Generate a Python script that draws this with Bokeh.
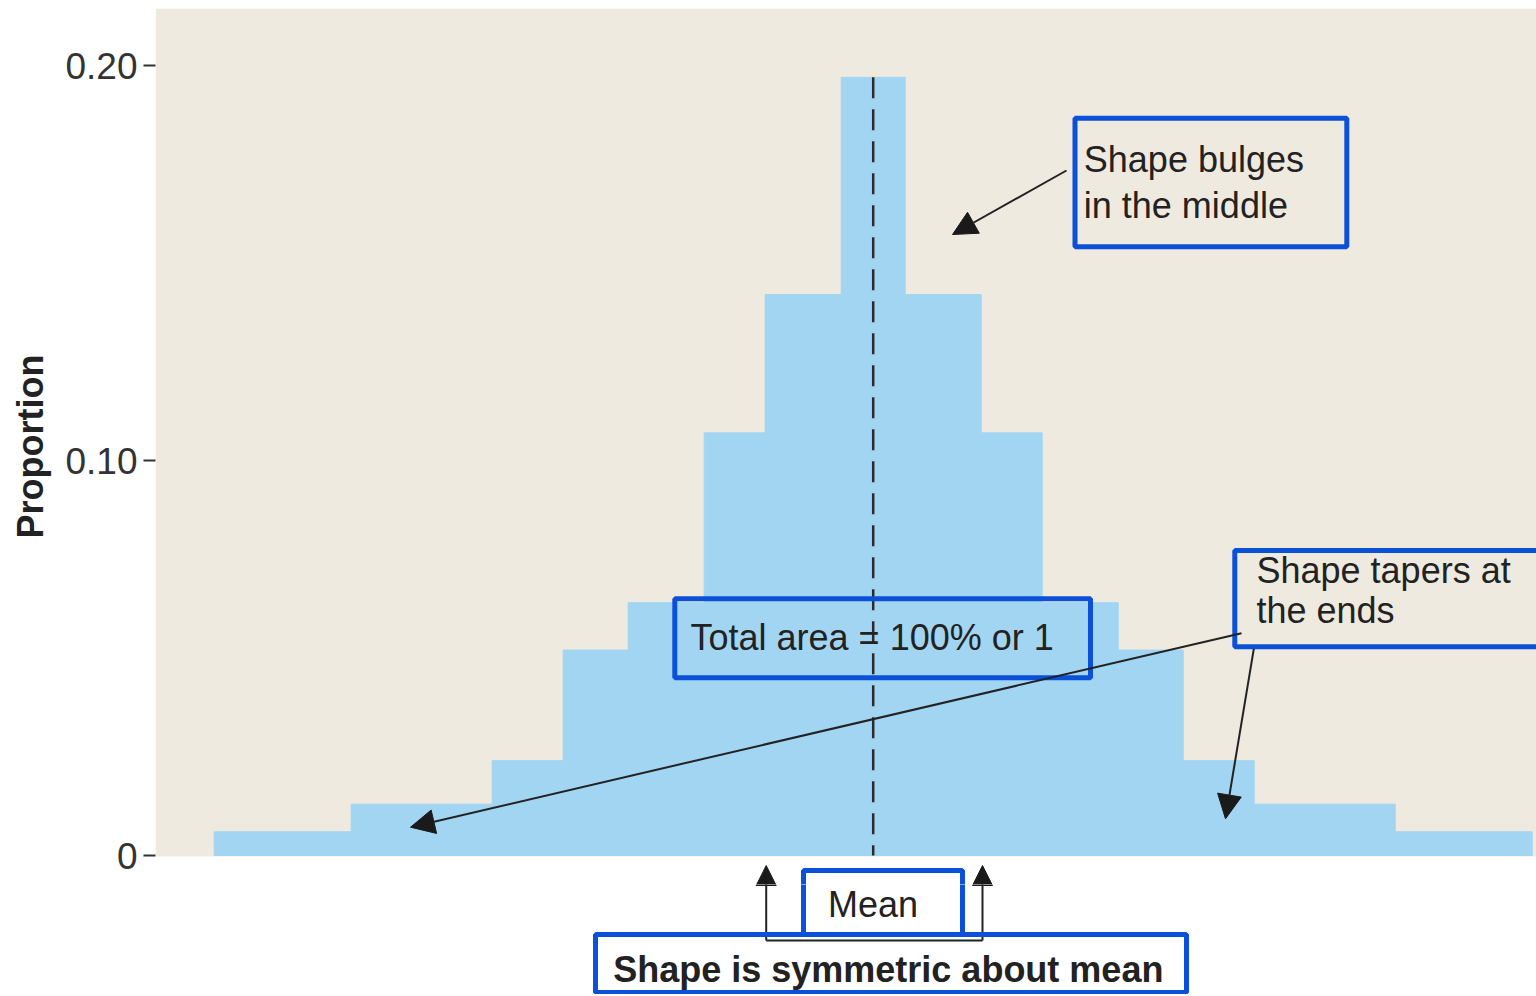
from bokeh.plotting import figure
from bokeh.layouts import column
from bokeh.models import (Range1d, FixedTicker, CustomJSTickFormatter, Label,
                          BoxAnnotation, Arrow, NormalHead)
from bokeh.embed import file_html
from bokeh.resources import INLINE

# ---------------- data ----------------
bin_edges = [-659, -522, -381, -310, -245, -169, -108, -32,
             32, 108, 169, 245, 310, 381, 522, 659]
proportions = [0.006, 0.013, 0.024, 0.052, 0.064, 0.107, 0.142, 0.197,
               0.142, 0.107, 0.064, 0.052, 0.024, 0.013, 0.006]
mean_value = 0
y_ticks = [0, 0.10, 0.20]
y_tick_labels = ["0", "0.10", "0.20"]

# ---------------- layout helpers (page pixel -> data) ----------------
MEAN_PX = 872.7
ZERO_PX = 855.0
PX_PER_UNIT = 3950.0
TEXT_SHIFT = 13  # label baseline correction (px)
SPLIT = 884      # page y where the chart figure ends and the strip begins


def xd(px):
    return px - MEAN_PX


def yd(py):
    return (ZERO_PX - py) / PX_PER_UNIT


BLUE = "#0a50d8"
INK = "#222222"
FONT = "Liberation Sans"
BAR = "#A2D5F2"
PANEL = "#EEEAE0"

x_range = Range1d(xd(155), xd(1536))

# ---------------- main chart ----------------
p = figure(width=1536, height=SPLIT, output_backend="svg", toolbar_location=None,
           x_range=x_range, y_range=Range1d(yd(SPLIT), yd(8)),
           min_border_left=155, min_border_right=0, min_border_top=8,
           min_border_bottom=0)
p.background_fill_color = "white"
p.border_fill_color = "white"
p.outline_line_color = None
p.xgrid.grid_line_color = None
p.ygrid.grid_line_color = None
p.xaxis.visible = False

# beige panel behind the histogram (ends at the baseline)
p.add_layout(BoxAnnotation(bottom=yd(856), fill_color=PANEL, fill_alpha=1,
                           line_color=None, level="underlay"))

# histogram bars
p.quad(left=bin_edges[:-1], right=bin_edges[1:], bottom=0, top=proportions,
       fill_color=BAR, line_color=BAR, line_width=1)

# mean dashed line
p.segment(x0=[mean_value], y0=[max(proportions)], x1=[mean_value], y1=[0],
          line_color="#2b2b2b", line_width=2.5, line_dash="21 11")

# y axis
ya = p.yaxis[0]
ya.ticker = FixedTicker(ticks=y_ticks)
ya.formatter = CustomJSTickFormatter(
    args=dict(tvals=y_ticks, tlabels=y_tick_labels),
    code="const i = tvals.findIndex(t => Math.abs(t - tick) < 1e-9); return i >= 0 ? tlabels[i] : '';")
ya.axis_line_color = None
ya.major_tick_out = 12
ya.major_tick_in = 0
ya.major_tick_line_width = 2
ya.major_tick_line_color = "#333333"
ya.minor_tick_line_color = None
ya.major_label_text_font = FONT
ya.major_label_text_font_size = "37px"
ya.major_label_text_color = "#333333"
ya.major_label_standoff = 6
ya.axis_label = "Proportion"
ya.axis_label_text_font = FONT
ya.axis_label_text_font_style = "bold"
ya.axis_label_text_font_size = "36px"
ya.axis_label_text_color = INK
ya.axis_label_standoff = 11

# ---------------- strip below the chart (mean marker) ----------------
p2 = figure(width=1536, height=994 - SPLIT, output_backend="svg", toolbar_location=None,
            x_range=x_range, y_range=Range1d(yd(994), yd(SPLIT)),
            min_border_left=155, min_border_right=0, min_border_top=0,
            min_border_bottom=0)
p2.axis.visible = False
p2.grid.grid_line_color = None
p2.outline_line_color = None
p2.background_fill_color = "white"
p2.border_fill_color = "white"


def box(fig, l, r, t, b):
    fig.add_layout(BoxAnnotation(left=xd(l), right=xd(r), top=yd(t), bottom=yd(b),
                                 fill_alpha=0, line_color=BLUE, line_width=5,
                                 line_alpha=1))


def text(fig, x, y, s, bold=False, align="left"):
    fig.add_layout(Label(x=xd(x), y=yd(y - TEXT_SHIFT), text=s, text_font=FONT,
                         text_font_size="36px", text_color=INK,
                         text_font_style="bold" if bold else "normal",
                         text_baseline="alphabetic", text_align=align))


def arrow(fig, x0, y0, x1, y1, head=24):
    end = NormalHead(size=head, fill_color="#1a1a1a", line_color="#1a1a1a",
                     line_width=1) if head else None
    fig.add_layout(Arrow(end=end, x_start=xd(x0), y_start=yd(y0),
                         x_end=xd(x1), y_end=yd(y1),
                         line_color=INK, line_width=2))


# boxes in the chart
box(p, 1074.5, 1346.3, 117.7, 246.3)
box(p, 1234.3, 1570, 550, 646.3)
box(p, 674.3, 1090, 598.3, 677.3)

# texts in the chart
text(p, 1083.3, 172.3, "Shape bulges")
text(p, 1083.3, 218.3, "in the middle")
text(p, 1256, 583.3, "Shape tapers at")
text(p, 1256, 623.3, "the ends")
text(p, 690, 650, "Total area = 100% or 1")

# arrows in the chart
arrow(p, 1066, 170, 952, 234)
arrow(p, 1241, 632.7, 410, 826.7)
arrow(p, 1253.3, 648.3, 1225, 818.3)

# mean marker: drawn in both figures so that pieces crossing the split join up
for fig in (p, p2):
    arrow(fig, 765.7, 940, 765.7, 865, head=20)
    arrow(fig, 982, 940, 982, 865, head=20)
    box(fig, 803, 962, 870, 934)
box(p2, 595, 1186, 934, 992)
arrow(p2, 765.7, 940, 982, 940, head=None)
text(p2, 872.5, 917, "Mean", align="center")
text(p2, 612.7, 981.7, "Shape is symmetric about mean", bold=True)

layout = column(p, p2, spacing=0)
open("out.html", "w").write(file_html(layout, INLINE))
